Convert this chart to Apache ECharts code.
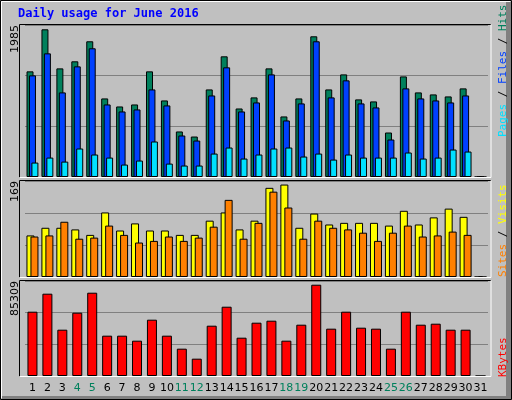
<!DOCTYPE html>
<html><head><meta charset="utf-8">
<script src="https://cdn.jsdelivr.net/npm/echarts@6/dist/echarts.min.js"></script>
<style>html,body{margin:0;padding:0;background:#c0c0c0}#c{width:512px;height:400px}</style>
</head><body><div id="c"></div>
<script>
var days = [];
for (var i = 1; i <= 31; i++) days.push(String(i));
var weekendDays = ['4','5','11','12','18','19','25','26'];
var hits  = [1420,1985,1460,1555,1824,1056,948,975,1420,1029,612,544,1177,1622,921,1070,1460,814,1056,1891,1177,1379,1043,1016,598,1352,1137,1110,1083,1191,0];
var files = [1366,1662,1137,1487,1730,975,881,908,1177,962,558,490,1096,1474,881,1002,1379,760,989,1824,1070,1299,989,935,504,1191,1056,1029,1002,1096,0];
var pages = [194,261,207,383,302,261,167,221,477,180,154,154,315,396,248,302,383,396,275,315,234,302,261,261,261,329,248,261,369,342,0];
var visits = [76,90,90,87,77,118,85,98,85,85,77,77,103,118,87,103,163,169,90,116,96,99,99,99,94,121,96,109,125,110,0];
var sites  = [74,76,101,70,72,94,77,63,66,74,66,72,92,141,70,99,156,127,70,103,90,87,81,66,81,94,74,76,83,77,0];
var kbytes = [60090,76900,43270,59150,77830,37670,37670,33000,52610,37670,25530,16190,47010,64750,35800,49810,51680,33000,47940,85309,44210,60090,45140,44210,25530,60090,47940,48880,43270,43270,0];
var maxLabels = ['1985','169','85309'];

var chart = echarts.init(document.getElementById('c'));
var L = 25, R = 24;
var grids = [
  {left:L, right:R, top:25, height:152},
  {left:L, right:R, top:181, height:96},
  {left:L, right:R, top:281, height:95}
];
var ymax = [2043, 175.5, 88770];
function xa(i, show) {
  return {type:'category', gridIndex:i, data:days, boundaryGap:true,
    axisLine:{show:false}, axisTick:{show:false},
    axisLabel:{show:show, interval:0, margin:7, fontFamily:'DejaVu Sans', fontSize:11,
      color:function(v){return weekendDays.indexOf(v)>=0?'#00805c':'#000';}}};
}
function ya(i) {
  return {type:'value', gridIndex:i, min:0, max:ymax[i], interval:ymax[i]/3,
    axisLine:{show:false}, axisTick:{show:false}, axisLabel:{show:false},
    splitLine:{show:true, lineStyle:{color:'#808080', width:1}}};
}
function bar(name, data, xi, color, w, gap) {
  var s = {name:name, type:'bar', xAxisIndex:xi, yAxisIndex:xi, data:data, barWidth:w,
    itemStyle:{color:color, borderColor:'#000', borderWidth:1}, animation:false, silent:true};
  if (gap !== undefined) s.barGap = gap;
  return s;
}
var g = [];
// outer bevel
g.push({type:'rect', shape:{x:0.5,y:0.5,width:511,height:399}, style:{fill:'none', stroke:'#000', lineWidth:1}});
g.push({type:'polyline', shape:{points:[[1.5,398],[1.5,1.5],[510,1.5]]}, style:{stroke:'#fff', lineWidth:1, fill:'none'}});
g.push({type:'rect', shape:{x:506,y:2,width:5,height:397}, style:{fill:'#808080'}});
g.push({type:'rect', shape:{x:2,y:396,width:509,height:3}, style:{fill:'#808080'}});
grids.forEach(function(gr){
  var x0 = L - 5.5, x1 = 512 - R + 3, y0 = gr.top - 0.5, y1 = gr.top + gr.height + 0.5;
  g.push({type:'polyline', z:10, shape:{points:[[x0,y1],[x0,y0],[x1,y0]]}, style:{stroke:'#000', lineWidth:1, fill:'none'}});
  g.push({type:'polyline', z:10, shape:{points:[[x1,y0],[x1,y1],[x0,y1]]}, style:{stroke:'#fff', lineWidth:1, fill:'none'}});
});
g.push({type:'text', left:18, top:8, style:{text:'Daily usage for June 2016', fill:'#0000ff', font:'bold 12px "DejaVu Sans Mono"'}});
var lTops = [25, 181, 281];
maxLabels.forEach(function(t, i){
  g.push({type:'text', x:15, y:lTops[i], rotation:Math.PI/2,
    style:{text:t, fill:'#000', font:'11px "DejaVu Sans"', align:'right', verticalAlign:'middle'}});
});
function rlab(y, parts) {
  g.push({type:'text', x:503, y:y, rotation:Math.PI/2,
    style:{text:parts.map(function(p,i){return '{p'+i+'|'+p[0]+'}';}).join(''),
      rich:(function(){var r={};parts.forEach(function(p,i){r['p'+i]={fill:p[1], font:'11px "DejaVu Sans Mono"'};});return r;})(),
      align:'left', verticalAlign:'middle'}});
}
rlab(137, [['Pages','#00e0ff'],[' / ','#000'],['Files','#0040ff'],[' / ','#000'],['Hits','#00805c']]);
rlab(277, [['Sites','#ff8000'],[' / ','#000'],['Visits','#ffff00']]);
rlab(377, [['KBytes','#ff0000']]);

chart.setOption({
  animation:false,
  backgroundColor:'#c0c0c0',
  grid:grids,
  xAxis:[xa(0,false), xa(1,false), xa(2,true)],
  yAxis:[ya(0), ya(1), ya(2)],
  series:[
    bar('Hits', hits, 0, '#00805c', 7, '-65%'),
    bar('Files', files, 0, '#0040ff', 7, '-65%'),
    bar('Pages', pages, 0, '#00e0ff', 7, '-65%'),
    bar('Visits', visits, 1, '#ffff00', 8, '-50%'),
    bar('Sites', sites, 1, '#ff8000', 8, '-50%'),
    bar('KBytes', kbytes, 2, '#ff0000', 10)
  ],
  graphic:g
});
</script></body></html>
